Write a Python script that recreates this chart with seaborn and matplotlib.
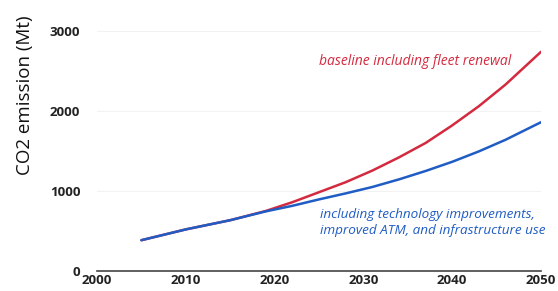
import matplotlib
matplotlib.use("Agg")
import matplotlib.pyplot as plt
import seaborn as sns
import pandas as pd

years = [2005, 2010, 2015, 2019, 2022, 2025, 2028, 2031, 2034, 2037, 2040, 2043, 2046, 2050]
baseline = [385, 520, 635, 750, 860, 985, 1110, 1255, 1420, 1600, 1820, 2060, 2330, 2740]
improved = [385, 520, 635, 745, 815, 895, 970, 1050, 1145, 1250, 1365, 1495, 1640, 1860]
series_names = ["baseline including fleet renewal",
                "including technology improvements,\nimproved ATM, and infrastructure use"]
x_ticks = [2000, 2010, 2020, 2030, 2040, 2050]
y_ticks = [0, 1000, 2000, 3000]

df = pd.DataFrame({
    "year": years * 2,
    "value": baseline + improved,
    "series": [series_names[0]] * len(years) + [series_names[1]] * len(years),
})

sns.set_theme(style="white")
plt.rcParams['font.family'] = ['Open Sans', 'DejaVu Sans']

red = "#d42a3f"
blue = "#1f5cc4"

fig = plt.figure(figsize=(5.58, 2.91), dpi=100)
ax = fig.add_axes([97/558, 20/291, (541-97)/558, (271-31)/291])
sns.lineplot(data=df, x="year", y="value", hue="series",
             palette={series_names[0]: red, series_names[1]: blue},
             linewidth=1.8, legend=False, ax=ax)

ax.set_xlim(2000, 2050)
ax.set_ylim(0, 3000)
ax.set_xticks(x_ticks)
ax.set_yticks(y_ticks)
ax.set_xticklabels([str(t) for t in x_ticks], fontsize=9.5, fontweight="bold", color="#222222")
ax.set_yticklabels([str(t) for t in y_ticks], fontsize=9.5, fontweight="bold", color="#222222")
ax.tick_params(axis="x", length=0, pad=2)
ax.tick_params(axis="y", length=0, pad=12)
ax.set_xlabel("")
ax.set_ylabel("CO2 emission (Mt)", fontsize=13.5, color="#111111")
ax.yaxis.set_label_coords(-0.142, 0.733)
for s in ["top", "right", "left"]:
    ax.spines[s].set_visible(False)
ax.spines["bottom"].set_color("#444444")
ax.spines["bottom"].set_linewidth(1.2)
ax.grid(axis="y", color="#f2f2f2", linewidth=0.8)
ax.set_axisbelow(True)

ax.text(2025.0, 2620, series_names[0], color=red, fontsize=10, style="italic",
        ha="left", va="center")
ax.text(2025.1, 790, series_names[1], color=blue, fontsize=9.7, style="italic",
        ha="left", va="top", linespacing=1.35)

fig.savefig("out.png", dpi=100)
